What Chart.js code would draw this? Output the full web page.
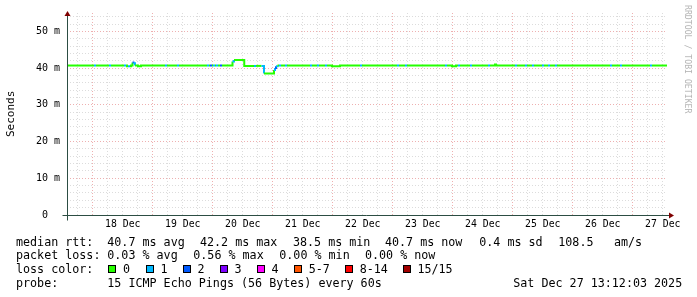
<!DOCTYPE html>
<html>
<head>
<meta charset="utf-8">
<script src="https://cdn.jsdelivr.net/npm/chart.js@4/dist/chart.umd.min.js"></script>
<style>
  html, body { margin: 0; padding: 0; background: #ffffff; }
  #wrap { position: relative; width: 697px; height: 297px; overflow: hidden; background: #ffffff; }
  #c { position: absolute; left: 0; top: 0; }
  .t { position: absolute; font-family: "DejaVu Sans Mono", monospace; font-size: 11.7px; line-height: 14px; color: #000; white-space: pre; }
  .sq { position: absolute; width: 6px; height: 6px; border: 1px solid #000; }
  #ylab { position: absolute; font-family: "DejaVu Sans Mono", monospace; font-size: 11px; line-height: 13px; color: #000; white-space: pre; transform: rotate(-90deg); transform-origin: 0 0; }
  #wm { position: absolute; font-family: "DejaVu Sans Mono", monospace; font-size: 8.2px; line-height: 10px; color: #b4b4b4; white-space: pre; transform: rotate(90deg); transform-origin: 0 0; }
</style>
</head>
<body>
<div id="wrap">
  <canvas id="c" width="697" height="297"></canvas>
</div>
<script>
// ---- data (time in hours since 17 Dec 00:00) ----
const times = [13.7, 24.5, 25.3, 30.5, 31.3, 36.5, 37.3, 37.7, 38.1, 38.9, 39.3, 39.9, 40.3, 40.9, 42.1, 43.3,
  52.9, 53.7, 57.7, 58.5, 69.7, 70.5, 70.9, 71.7, 72.1, 72.9, 73.3, 74.1, 74.9, 75.7,
  79.9, 80.5, 84.6, 88.5, 89.3, 91.5, 92.5, 96.5, 96.9, 97.3, 97.9, 98.5, 99.3, 100.9, 101.7,
  110.9, 111.7, 113.7, 114.5, 116.9, 117.7, 119.7, 122.9, 130.9, 131.7, 145.7, 146.5, 148.9, 149.7,
  164.9, 165.7, 167.7, 169.3, 170.1, 170.9, 174.9, 175.7, 182.1, 182.9, 184.9, 185.3,
  192.9, 193.7, 196.9, 197.7, 199.7, 200.5, 203.7, 204.5, 206.1, 206.9, 208.9, 209.7,
  230.9, 231.7, 234.9, 235.7, 246.9, 247.7, 253.7];
const rtt = [40.7, 40.7, 40.7, 40.7, 40.7, 40.7, 40.7, 40.5, 40.5, 40.5, 40.7, 41.5, 41.3, 40.7, 40.5, 40.7,
  40.7, 40.7, 40.7, 40.7, 40.7, 40.7, 40.7, 40.7, 40.7, 40.7, 40.7, 40.7, 40.7, 40.7,
  41.8, 42.2, 40.6, 40.6, 40.6, 40.6, 38.5, 39.5, 40.0, 40.5, 40.7, 40.7, 40.7, 40.7, 40.7,
  40.7, 40.7, 40.7, 40.7, 40.7, 40.7, 40.5, 40.7, 40.7, 40.7, 40.7, 40.7, 40.7, 40.7,
  40.7, 40.7, 40.5, 40.7, 40.7, 40.7, 40.7, 40.7, 40.7, 40.7, 41.0, 40.7,
  40.7, 40.7, 40.7, 40.7, 40.7, 40.7, 40.7, 40.7, 40.7, 40.7, 40.7, 40.7,
  40.7, 40.7, 40.7, 40.7, 40.7, 40.7, 40.7];
const loss = [0, 1, 0, 1, 0, 1, 0, 0, 1, 0, 0, 2, 1, 0, 0, 0,
  1, 0, 1, 0, 1, 0, 2, 0, 1, 0, 1, 0, 2, 0,
  1, 0, 0, 1, 0, 1, 0, 1, 2, 1, 0, 1, 0, 1, 0,
  1, 0, 1, 0, 1, 0, 0, 0, 1, 0, 1, 0, 1, 0,
  1, 0, 0, 0, 1, 0, 1, 0, 1, 0, 0, 0,
  1, 0, 1, 0, 1, 0, 1, 0, 1, 0, 1, 0,
  1, 0, 1, 0, 1, 0, 0];

const lossColors = ['#26ff00', '#00b8ff', '#0059ff', '#7e00ff', '#ff00ff', '#ff5500', '#ff0000', '#a10000'];
const lossLabels = ['0', '1', '2', '3', '4', '5-7', '8-14', '15/15'];

const dayLabels = ['18 Dec', '19 Dec', '20 Dec', '21 Dec', '22 Dec', '23 Dec', '24 Dec', '25 Dec', '26 Dec', '27 Dec'];
const dayLabelHours = [36, 60, 84, 108, 132, 156, 180, 204, 228, 252];

const xStart = 13.7, xEnd = 253.7;
const yMin = 0, yMax = 55;

const statsRtt = ['median rtt:', '40.7 ms avg', '42.2 ms max', '38.5 ms min', '40.7 ms now', '0.4 ms sd', '108.5', 'am/s'];
const statsLoss = ['packet loss:', '0.03 % avg', '0.56 % max', '0.00 % min', '0.00 % now'];
const probeText = ['probe:', '15 ICMP Echo Pings (56 Bytes) every 60s', 'Sat Dec 27 13:12:03 2025'];

// ---- layout of text (pixels) ----
const wrap = document.getElementById('wrap');
function addText(str, x, y, cls) {
  const d = document.createElement('div');
  d.className = cls || 't';
  d.textContent = str;
  d.style.left = x + 'px';
  d.style.top = y + 'px';
  wrap.appendChild(d);
  return d;
}
const rttX = [16, 107.3, 200, 293, 385, 479.3, 558.3, 614];
statsRtt.forEach((s, i) => addText(s, rttX[i], 234.5));
const lossX = [16, 107.3, 193.3, 279.3, 365];
statsLoss.forEach((s, i) => addText(s, lossX[i], 248.3));
addText('loss color:', 16, 262.1);
const sqX = [108.3, 145.7, 182.7, 219.7, 256.7, 294, 345, 402.7];
lossLabels.forEach((s, i) => {
  const q = document.createElement('div');
  q.className = 'sq';
  q.style.left = sqX[i] + 'px';
  q.style.top = '265px';
  q.style.background = lossColors[i];
  wrap.appendChild(q);
  addText(s, sqX[i] + 14.7, 262.1);
});
const probeX = [16, 107.3, 513.3];
probeText.forEach((s, i) => addText(s, probeX[i], 275.9));
addText('Seconds', 4, 137, 't').id = 'ylab';
document.getElementById('ylab').className = '';
addText('RRDTOOL / TOBI OETIKER', 693, 5, '').id = 'wm';

// ---- chart ----
const minorGrid = '#dcdcdc';
const majorGrid = '#eeb0b0';

const axisPlugin = {
  id: 'rrdAxes',
  afterDraw(chart) {
    const c = chart.ctx;
    const xs = chart.scales.x, ys = chart.scales.y;
    const x0 = Math.round(xs.getPixelForValue(xStart)) + 0.5;
    const y0 = Math.round(ys.getPixelForValue(0)) + 0.5;
    const xr = xs.right, yt = ys.top;
    c.save();
    c.strokeStyle = '#2c4d43';
    c.lineWidth = 1;
    c.beginPath();
    c.moveTo(x0 - 5, y0); c.lineTo(xr + 4, y0);
    c.moveTo(x0, y0 + 5); c.lineTo(x0, yt + 1);
    c.stroke();
    c.fillStyle = '#7f0000';
    c.beginPath();
    c.moveTo(xr + 7, y0); c.lineTo(xr + 2, y0 - 3); c.lineTo(xr + 2, y0 + 3); c.closePath(); c.fill();
    c.beginPath();
    c.moveTo(x0, yt - 2); c.lineTo(x0 - 3, yt + 3); c.lineTo(x0 + 3, yt + 3); c.closePath(); c.fill();
    c.restore();
  }
};

const xGridTicks = [];
for (let h = Math.ceil(xStart / 6) * 6; h <= xEnd; h += 6) xGridTicks.push(h);
const yGridTicks = [];
for (let v = 0; v < yMax; v += 2) yGridTicks.push(v);

new Chart(document.getElementById('c'), {
  type: 'line',
  data: {
    datasets: [{
      data: times.map((t, i) => ({ x: t, y: rtt[i] })),
      stepped: 'before',
      borderWidth: 2,
      borderColor: lossColors[0],
      borderCapStyle: 'butt',
      borderJoinStyle: 'miter',
      pointRadius: 0,
      fill: false,
      segment: { borderColor: ctx => lossColors[loss[ctx.p0DataIndex]] }
    }]
  },
  options: {
    responsive: false,
    animation: false,
    devicePixelRatio: 1,
    layout: { padding: { left: 0, right: 30, top: 10.8, bottom: 0 } },
    plugins: { legend: { display: false }, tooltip: { enabled: false } },
    scales: {
      x: {
        type: 'linear',
        min: xStart, max: xEnd,
        afterBuildTicks: s => { s.ticks = xGridTicks.map(v => ({ value: v })); },
        afterFit: s => { s.height = 82; },
        ticks: {
          autoSkip: false, maxRotation: 0, minRotation: 0, padding: 4,
          color: '#000',
          font: { family: 'DejaVu Sans Mono', size: 9.8 },
          callback: v => { const k = dayLabelHours.indexOf(v); return k >= 0 ? dayLabels[k] : ''; }
        },
        grid: { drawTicks: false, lineWidth: 1, color: c => (c.tick && c.tick.value % 24 === 0) ? majorGrid : minorGrid },
        border: { display: false, dash: [1, 2] }
      },
      y: {
        min: yMin, max: yMax,
        afterBuildTicks: s => { s.ticks = yGridTicks.map(v => ({ value: v })); },
        afterFit: s => { s.width = 67; },
        ticks: {
          autoSkip: false, padding: 7,
          color: '#000',
          font: { family: 'DejaVu Sans Mono', size: 10 },
          callback: v => (v % 10 === 0) ? (v === 0 ? '0  ' : v + ' m') : ''
        },
        grid: { drawTicks: false, lineWidth: 1, color: c => (c.tick && c.tick.value % 10 === 0) ? majorGrid : minorGrid },
        border: { display: false, dash: [1, 2] }
      }
    }
  },
  plugins: [axisPlugin]
});
</script>
</body>
</html>
